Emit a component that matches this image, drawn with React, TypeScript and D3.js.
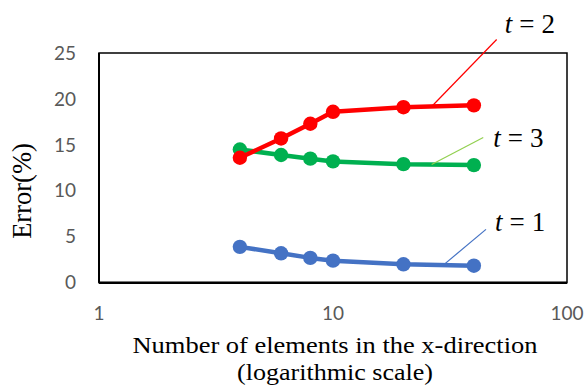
import React from "react";
import * as d3 from "d3";

const xValues = [4, 6, 8, 10, 20, 40];
const t1Values = [3.9, 3.2, 2.7, 2.4, 2.0, 1.85];
const t2Values = [13.6, 15.7, 17.3, 18.6, 19.1, 19.3];
const t3Values = [14.5, 13.9, 13.5, 13.2, 12.9, 12.8];
const yTicks = [0, 5, 10, 15, 20, 25];
const xTicks = [1, 10, 100];
const xTitleLines = ["Number of elements in the x-direction", "(logarithmic scale)"];

const W = 587;
const H = 385;

const series = [
  { name: "1", values: t1Values, color: "#4472C4", leader: "#4472C4", anchor: 29.6, dx: 42.7, dy: -35.7, tx: 9, ty: 2 },
  { name: "3", values: t3Values, color: "#00B050", leader: "#92D050", anchor: 26.4, dx: 51.6, dy: -27, tx: 10, ty: 9 },
  { name: "2", values: t2Values, color: "#FF0000", leader: "#FF0000", anchor: 26.4, dx: 65, dy: -67, tx: 8, ty: -6 },
];

export default function App() {
  const x = d3.scaleLog().domain([1, 100]).range([99, 567]);
  const y = d3.scaleLinear().domain([0, 25]).range([282.7, 53]);
  const line = d3
    .line<number>()
    .x((_, i) => x(xValues[i]))
    .y((d) => y(d));

  const interp = (vals: number[], xv: number) => {
    const lx = Math.log10(xv);
    for (let i = 0; i < xValues.length - 1; i++) {
      const a = Math.log10(xValues[i]);
      const b = Math.log10(xValues[i + 1]);
      if (lx >= a && lx <= b) {
        const f = (lx - a) / (b - a);
        return vals[i] + f * (vals[i + 1] - vals[i]);
      }
    }
    return vals[vals.length - 1];
  };

  const [y0, y1] = y.range();
  const [x0, x1] = x.range();
  const serif = "'Liberation Serif', 'Times New Roman', serif";
  const titleWidths = [405, 196];

  return (
    <svg width={W} height={H} style={{ position: "absolute", left: 0, top: 0, background: "#fff" }}>
      <rect x={0} y={0} width={W} height={H} fill="#fff" />
      {/* plot frame */}
      <rect x={x0} y={y1} width={x1 - x0} height={y0 - y1} fill="none" stroke="#000" strokeWidth={1.5} />
      <line x1={x0} x2={x1} y1={y0} y2={y0} stroke="#000" strokeWidth={2.5} />
      <line x1={x0} x2={x0} y1={y1} y2={y0} stroke="#000" strokeWidth={2} />

      {/* y ticks */}
      {yTicks.map((t) => (
        <text key={t} x={76} y={y(t)} dy="0.35em" textAnchor="end" fontFamily="Lato, 'Open Sans', sans-serif" fontSize={19} fill="#595959">
          {t}
        </text>
      ))}
      {/* x ticks */}
      {xTicks.map((t) => (
        <text key={t} x={x(t)} y={313} dy="0.35em" textAnchor="middle" fontFamily="Lato, 'Open Sans', sans-serif" fontSize={19} fill="#595959">
          {t}
        </text>
      ))}

      {/* axis titles */}
      {xTitleLines.map((l, i) => (
        <text
          key={i}
          x={335}
          y={352.5 + i * 27}
          textAnchor="middle"
          fontFamily={serif}
          fontSize={24}
          textLength={titleWidths[i]}
          lengthAdjust="spacingAndGlyphs"
          fill="#000"
        >
          {l}
        </text>
      ))}
      <text transform={`translate(31,191) rotate(-90)`} textAnchor="middle" fontFamily={serif} fontSize={26.5} fill="#000">
        Error(%)
      </text>

      {/* series */}
      {series.map((s) => (
        <g key={s.name}>
          <path d={line(s.values) || ""} fill="none" stroke={s.color} strokeWidth={4.5} strokeLinejoin="round" />
          {s.values.map((v, i) => (
            <circle key={i} cx={x(xValues[i])} cy={y(v)} r={7.2} fill={s.color} />
          ))}
        </g>
      ))}

      {/* leader lines and labels */}
      {series.map((s) => {
        const ax = x(s.anchor);
        const ay = y(interp(s.values, s.anchor));
        const ex = ax + s.dx;
        const ey = ay + s.dy;
        return (
          <g key={"l" + s.name}>
            <line x1={ax} y1={ay} x2={ex} y2={ey} stroke={s.leader} strokeWidth={1.2} />
            <text x={ex + s.tx} y={ey + s.ty} fontFamily={serif} fontSize={27} fill="#000">
              <tspan fontStyle="italic">t</tspan>
              <tspan dx={7}>=</tspan>
              <tspan dx={7}>{s.name}</tspan>
            </text>
          </g>
        );
      })}
    </svg>
  );
}
